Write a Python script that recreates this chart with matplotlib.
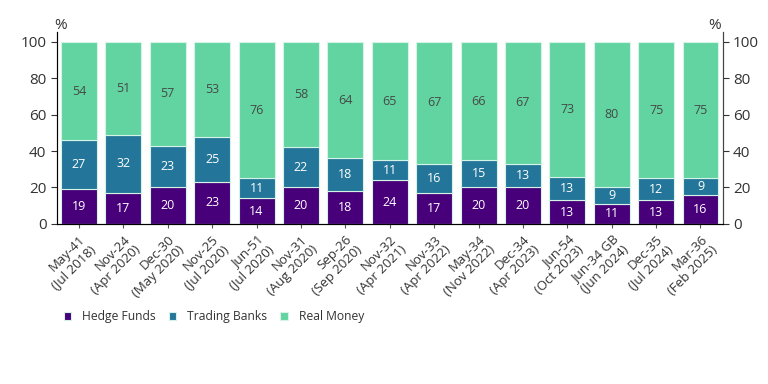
import numpy as np
import matplotlib
matplotlib.use("Agg")
import matplotlib.pyplot as plt

plt.rcParams['font.family'] = ['Open Sans', 'DejaVu Sans']

# data
categories = ["May-41\n(Jul 2018)", "Nov-24\n(Apr 2020)", "Dec-30\n(May 2020)", "Nov-25\n(Jul 2020)",
              "Jun-51\n(Jul 2020)", "Nov-31\n(Aug 2020)", "Sep-26\n(Sep 2020)", "Nov-32\n(Apr 2021)",
              "Nov-33\n(Apr 2022)", "May-34\n(Nov 2022)", "Dec-34\n(Apr 2023)", "Jun-54\n(Oct 2023)",
              "Jun-34 GB\n(Jun 2024)", "Dec-35\n(Jul 2024)", "Mar-36\n(Feb 2025)"]
hedge_funds = [19, 17, 20, 23, 14, 20, 18, 24, 17, 20, 20, 13, 11, 13, 16]
trading_banks = [27, 32, 23, 25, 11, 22, 18, 11, 16, 15, 13, 13, 9, 12, 9]
real_money = [54, 51, 57, 53, 76, 58, 64, 65, 67, 66, 67, 73, 80, 75, 75]

c_hf = "#47007a"
c_tb = "#23769a"
c_rm = "#62d4a1"
edge = "#d5f3e6"

fig = plt.figure(figsize=(7.68, 3.84), dpi=100)
ax = fig.add_axes([0.074, 0.417, 0.867, 0.5])

x = np.arange(len(categories))
hf = np.array(hedge_funds)
tb = np.array(trading_banks)
rm = np.array(real_money)
w = 0.81

# shares are rounded, the bars in the source all fill up to 100
rm_h = 100 - hf - tb

b1 = ax.bar(x, hf, w, color=c_hf, edgecolor=edge, linewidth=0.8, label="Hedge Funds")
b2 = ax.bar(x, tb, w, bottom=hf, color=c_tb, edgecolor=edge, linewidth=0.8, label="Trading Banks")
b3 = ax.bar(x, rm_h, w, bottom=hf + tb, color=c_rm, edgecolor=edge, linewidth=0.8, label="Real Money")

ax.bar_label(b1, label_type="center", color="white", fontsize=9)
ax.bar_label(b2, label_type="center", color="white", fontsize=9)
ax.bar_label(b3, labels=[str(v) for v in real_money], label_type="center", color="#444a47", fontsize=9)

ax.set_ylim(0, 105.5)
ax.set_xlim(-0.5, len(categories) - 0.5)
ax.set_yticks([0, 20, 40, 60, 80, 100])
ax.set_xticks(x)
ax.set_xticklabels(categories, rotation=45, ha="right", rotation_mode="anchor",
                   fontsize=9.5, color="#333333", linespacing=1.1)
ax.tick_params(axis="y", labelsize=11, colors="#333333", length=4)
ax.tick_params(axis="x", length=3, color="#555555")
ax.spines["top"].set_visible(False)
for s in ["left", "bottom", "right"]:
    ax.spines[s].set_color("#444444")

ax2 = ax.twinx()
ax2.set_ylim(ax.get_ylim())
ax2.set_yticks([0, 20, 40, 60, 80, 100])
ax2.tick_params(axis="y", labelsize=11, colors="#333333", length=4)
ax2.spines["top"].set_visible(False)
ax2.spines["right"].set_color("#444444")

fig.text(0.079, 0.925, "%", fontsize=11, color="#333333", ha="center")
fig.text(0.931, 0.925, "%", fontsize=11, color="#333333", ha="center")

fig.legend(handles=[b1, b2, b3], loc="center left", bbox_to_anchor=(0.083, 0.175), ncol=3,
           frameon=False, fontsize=8.7, handlelength=0.6, handleheight=0.6,
           columnspacing=1.1, handletextpad=0.9, labelcolor="#333333", borderaxespad=0,
           borderpad=0)

fig.savefig("out.png", dpi=100)
